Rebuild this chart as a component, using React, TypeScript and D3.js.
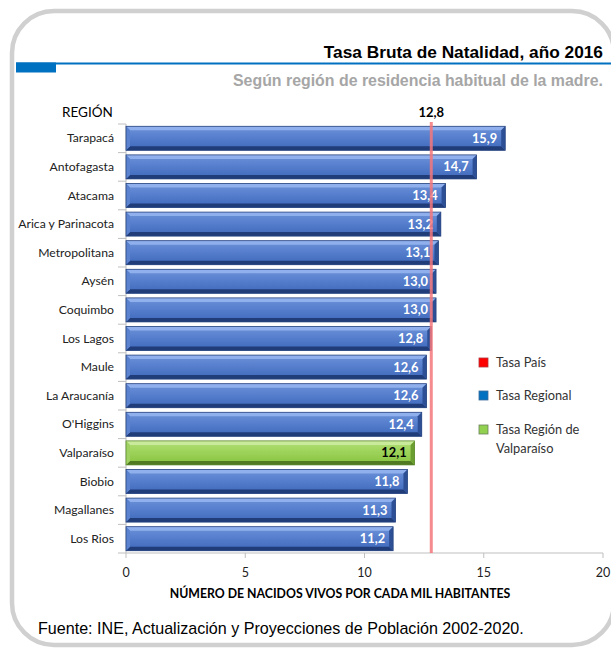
// @ts-nocheck
import React from "react";
import { scaleBand, scaleLinear } from "d3";

const regions = [
  "Tarapacá",
  "Antofagasta",
  "Atacama",
  "Arica y Parinacota",
  "Metropolitana",
  "Aysén",
  "Coquimbo",
  "Los Lagos",
  "Maule",
  "La Araucanía",
  "O'Higgins",
  "Valparaíso",
  "Biobio",
  "Magallanes",
  "Los Rios",
];
const rates = [15.9, 14.7, 13.4, 13.2, 13.1, 13.0, 13.0, 12.8, 12.6, 12.6, 12.4, 12.1, 11.8, 11.3, 11.2];
const highlight = "Valparaíso";
const countryRate = 12.8;
const xTicks = [0, 5, 10, 15, 20];
const legendItems = [
  { label: ["Tasa País"], color: "#ff0000", border: "#b0363a" },
  { label: ["Tasa Regional"], color: "#0070c0", border: "#3b6b9a" },
  { label: ["Tasa Región de", "Valparaíso"], color: "#92d050", border: "#6b7f5a" },
];

const W = 611;
const H = 649;
const CAL = "Lato, 'Open Sans', sans-serif";
const ARIAL = "'Liberation Sans', Arial, sans-serif";

const fmt = (v: number) => v.toFixed(1).replace(".", ",");

export default function App() {
  const x = scaleLinear().domain([0, 20]).range([126, 603]);
  const y = scaleBand().domain(regions).range([124, 553]).paddingInner(0.16).paddingOuter(0.08);
  const bh = y.bandwidth();
  const step = y.step();
  const axisY = 553;

  return (
    <div style={{ position: "absolute", left: 0, top: 0 }}>
      <svg width={W} height={H} style={{ display: "block", background: "#fff" }}>
        <defs>
          <linearGradient id="blueFace" x1="0" x2="0" y1="0" y2="1">
            <stop offset="0" stopColor="#6f93d8" />
            <stop offset="0.35" stopColor="#5b83d0" />
            <stop offset="1" stopColor="#3e68bb" />
          </linearGradient>
          <linearGradient id="greenFace" x1="0" x2="0" y1="0" y2="1">
            <stop offset="0" stopColor="#b2de78" />
            <stop offset="0.35" stopColor="#a2d660" />
            <stop offset="1" stopColor="#86c23e" />
          </linearGradient>
        </defs>

        {/* frame */}
        <rect x={12} y={11} width={602} height={634} rx={42} ry={42} fill="none" stroke="#d0d0d0" strokeWidth={4.5} />

        {/* header */}
        <text x={603} y={58} textAnchor="end" fontFamily={ARIAL} fontWeight="bold" fontSize={17.3} fill="#000">
          Tasa Bruta de Natalidad, año 2016
        </text>
        <rect x={16} y={62.5} width={595} height={2} fill="#0070c0" />
        <rect x={16} y={62.5} width={40} height={10} fill="#0070c0" />
        <text x={603} y={86} textAnchor="end" fontFamily={ARIAL} fontWeight="bold" fontSize={15.9} fill="#a6a6a6">
          Según región de residencia habitual de la madre.
        </text>

        <text x={62} y={117} fontFamily={CAL} fontSize={13.5} fill="#000">REGIÓN</text>
        <text x={x(countryRate)} y={117} textAnchor="middle" fontFamily={CAL} fontWeight="bold" fontSize={13} fill="#000">
          {fmt(countryRate)}
        </text>

        {/* y axis */}
        <line x1={126} x2={126} y1={124} y2={axisY} stroke="#bfbfbf" />
        {regions.map((r, i) => (
          <line key={r} x1={118} x2={126} y1={124 + i * step} y2={124 + i * step} stroke="#bfbfbf" />
        ))}
        <line x1={118} x2={126} y1={axisY} y2={axisY} stroke="#bfbfbf" />
        {regions.map((r) => (
          <text key={r} x={114} y={y(r)! + bh / 2 + 4} textAnchor="end" fontFamily={CAL} fontSize={12.2} fill="#222">
            {r}
          </text>
        ))}

        {/* x axis */}
        <line x1={126} x2={603} y1={axisY} y2={axisY} stroke="#bfbfbf" />
        {xTicks.map((t) => (
          <g key={t}>
            <line x1={x(t)} x2={x(t)} y1={axisY} y2={axisY + 5} stroke="#bfbfbf" />
            <text x={x(t)} y={577} textAnchor="middle" fontFamily={CAL} fontSize={12.5} fill="#222">
              {t}
            </text>
          </g>
        ))}
        <text x={340} y={598} textAnchor="middle" fontFamily={CAL} fontWeight="bold" fontSize={12.3} fill="#000">
          NÚMERO DE NACIDOS VIVOS POR CADA MIL HABITANTES
        </text>

        {/* bars */}
        {regions.map((r, i) => {
          const v = rates[i];
          const x0 = x(0);
          const x1 = x(v);
          const y0 = y(r)!;
          const y1 = y0 + bh;
          const g = r === highlight;
          const e = 4;
          const light = g ? "#c8ea9a" : "#8fb0ec";
          const dark = g ? "#4f7a22" : "#203d7a";
          const side = g ? "#6a9e30" : "#2d4f95";
          return (
            <g key={r}>
              <rect x={x0} y={y0} width={x1 - x0} height={bh} fill={g ? "url(#greenFace)" : "url(#blueFace)"} />
              <polygon points={`${x0},${y0} ${x1},${y0} ${x1 - e},${y0 + e} ${x0 + e},${y0 + e}`} fill={light} />
              <polygon points={`${x0},${y1} ${x1},${y1} ${x1 - e},${y1 - e} ${x0 + e},${y1 - e}`} fill={dark} />
              <polygon points={`${x1},${y0} ${x1},${y1} ${x1 - e},${y1 - e} ${x1 - e},${y0 + e}`} fill={side} />
              <polygon points={`${x0},${y0} ${x0},${y1} ${x0 + e},${y1 - e} ${x0 + e},${y0 + e}`} fill={g ? "#9fd262" : "#5a82cf"} />
              <rect x={x0} y={y0} width={x1 - x0} height={bh} fill="none" stroke={g ? "#5f8a30" : "#2a4680"} strokeWidth={0.8} />
              <text x={x1 - 8} y={y0 + bh / 2 + 4.5} textAnchor="end" fontFamily={CAL} fontWeight="bold" fontSize={12.8} fill={g ? "#000" : "#fff"}>
                {fmt(v)}
              </text>
            </g>
          );
        })}

        {/* country rate line */}
        <line x1={x(countryRate)} x2={x(countryRate)} y1={122} y2={axisY} stroke="#f4777b" strokeOpacity={0.85} strokeWidth={3} />

        {/* legend */}
        {legendItems.map((d, i) => {
          const ly = [362, 395, 429][i];
          return (
            <g key={i}>
              <rect x={479} y={ly - 4} width={9} height={9} fill={d.color} stroke={d.border} strokeWidth={0.8} />
              {d.label.map((l, j) => (
                <text key={j} x={496} y={ly + 4.5 + j * 19} fontFamily={CAL} fontSize={12.8} fill="#333">
                  {l}
                </text>
              ))}
            </g>
          );
        })}

        <text x={38} y={634} fontFamily={ARIAL} fontSize={16.1} fill="#000">
          Fuente: INE, Actualización y Proyecciones de Población 2002-2020.
        </text>
      </svg>
    </div>
  );
}
